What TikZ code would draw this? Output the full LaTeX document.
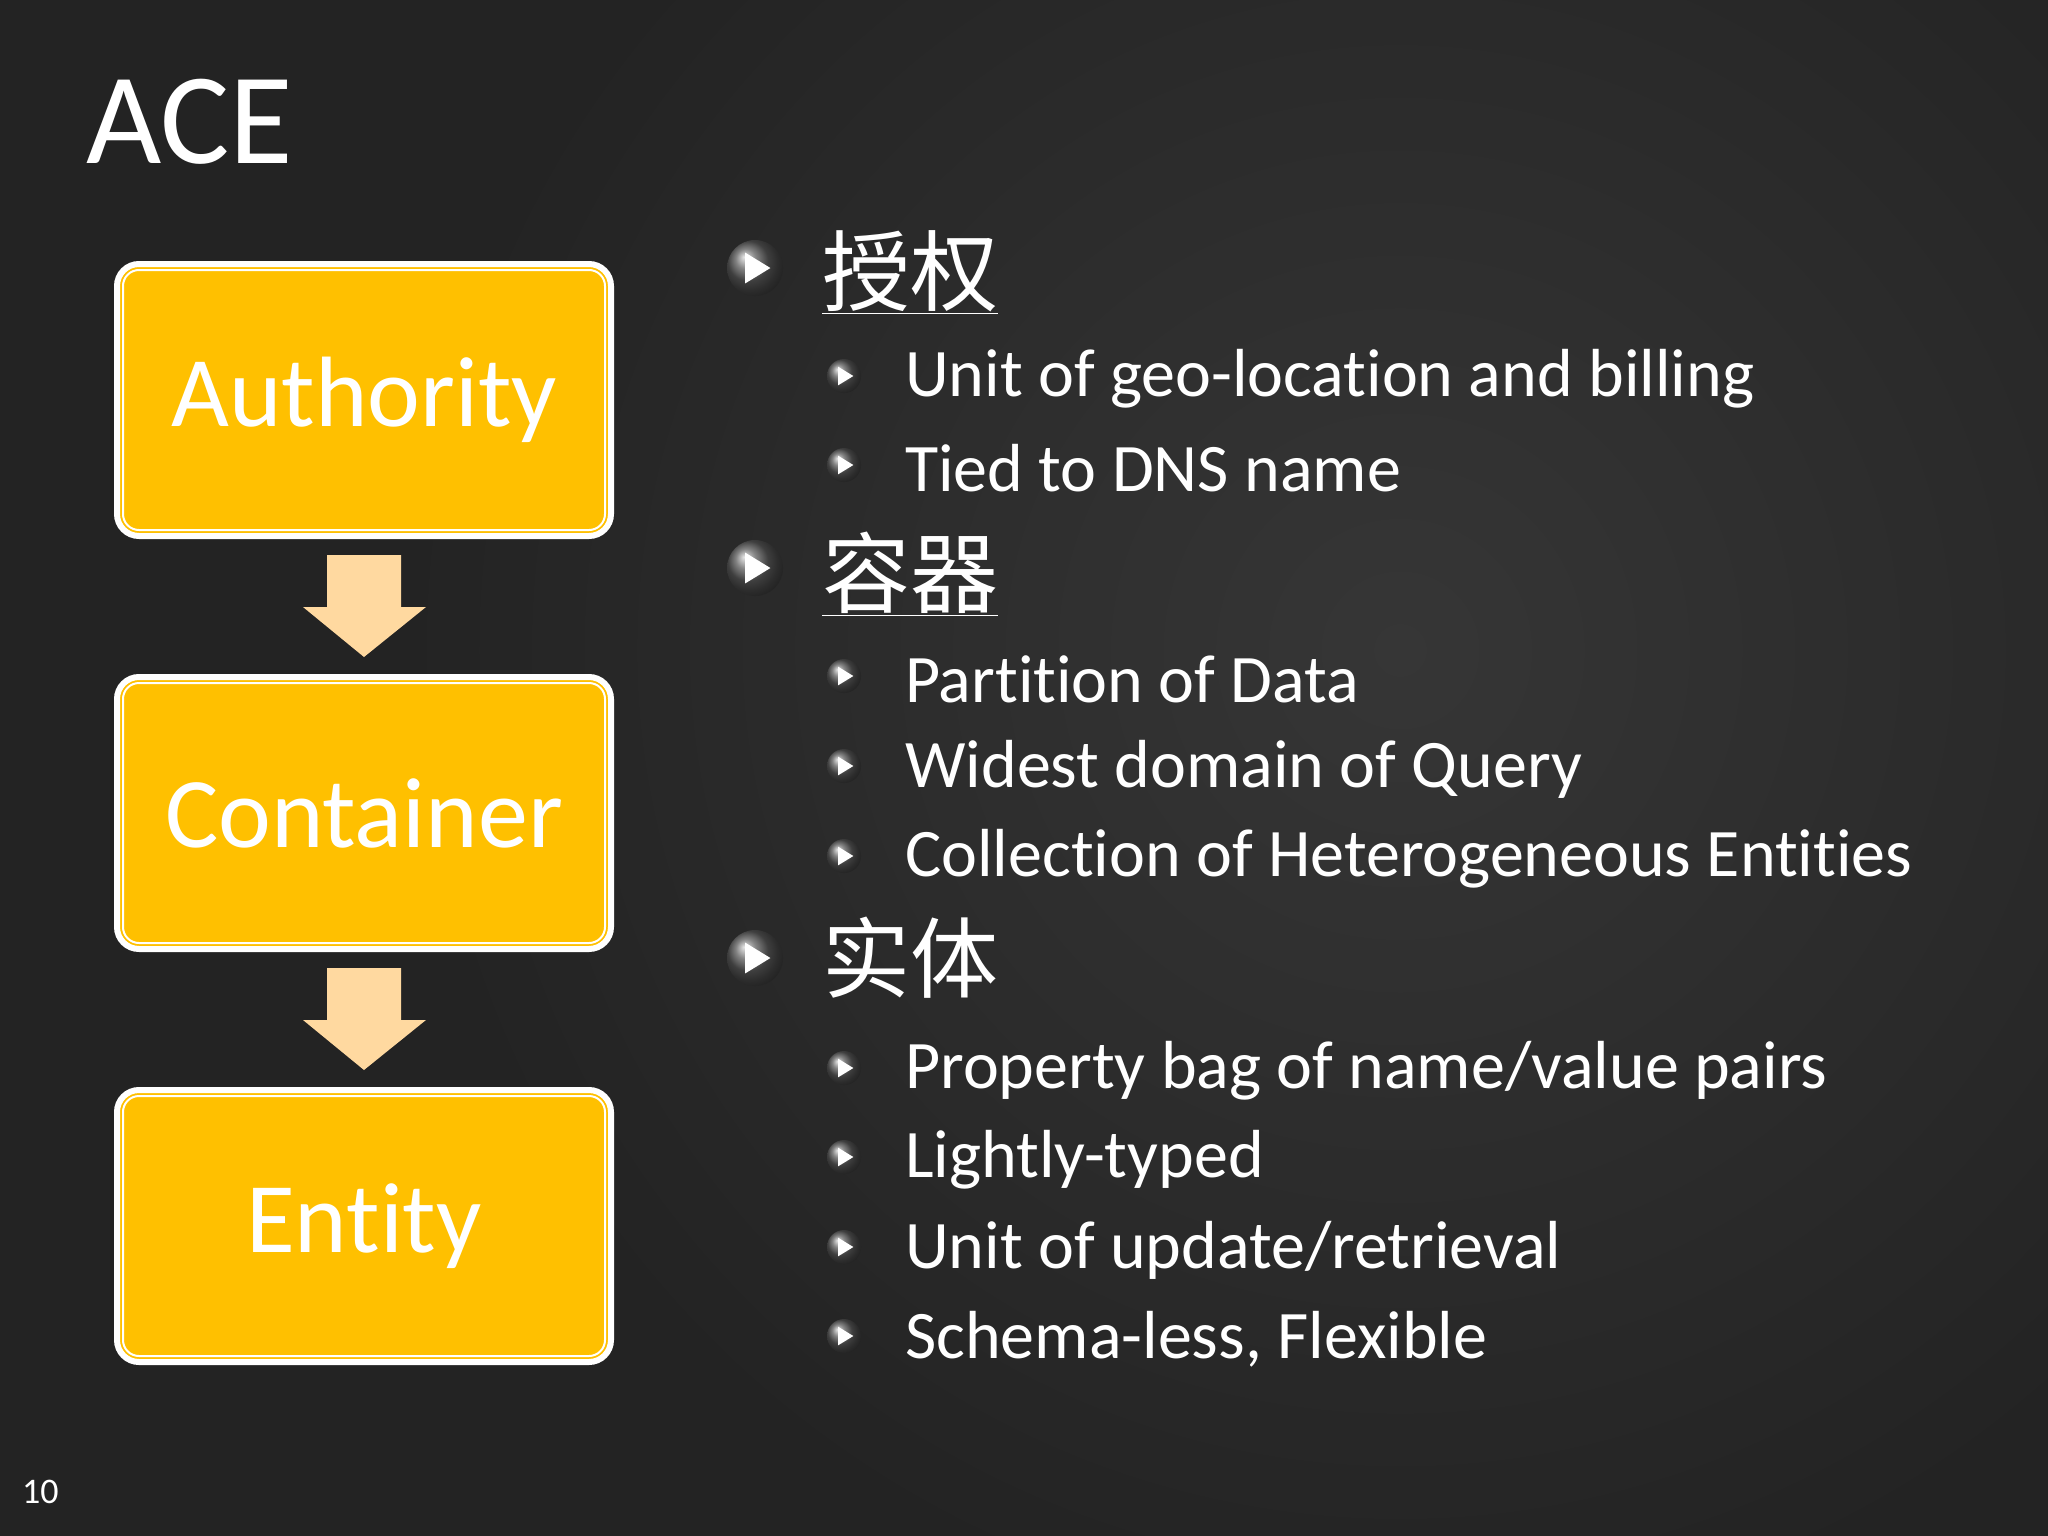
\documentclass[tikz,border=0pt]{standalone}
\usepackage{fontspec}
\setmainfont{Carlito}[Ligatures=NoCommon]
\newfontfamily\cjk{Noto Sans CJK SC}
\usetikzlibrary{shapes.geometric,calc}
\definecolor{boxy}{HTML}{FFC000}
\definecolor{arrowc}{HTML}{FFD9A0}
\definecolor{bgc}{HTML}{232323}
\definecolor{bgl}{HTML}{363636}
\tikzset{
  ybox/.style={draw=white,line width=6pt,rounded corners=22pt,fill=boxy,minimum width=494pt,minimum height=272pt,text=white,font=\fontsize{100}{110}\selectfont,inner sep=0pt},
  lone/.style={anchor=west,text=white,font=\cjk\fontsize{88}{96}\selectfont,inner sep=0pt},
  ltwo/.style={anchor=west,text=white,font=\fontsize{68}{80}\selectfont,inner sep=0pt},
  bigarrow/.style={fill=arrowc,draw=none}
}
\newcommand{\bulicon}[3]{%
  \shade[ball color=gray!70!black] (#1,#2) circle (#3);
  \fill[white] ($(#1,#2)+(-0.35*#3,-0.55*#3)$) -- ($(#1,#2)+(0.55*#3,0)$) -- ($(#1,#2)+(-0.35*#3,0.55*#3)$) -- cycle;}
\begin{document}
\begin{tikzpicture}[x=1pt,y=-1pt]
\useasboundingbox (0,0) rectangle (2048,1536);
\fill[bgc] (0,0) rectangle (2048,1536);
\shade[inner color=bgl,outer color=bgc] (1400,650) circle (1000);
\node[anchor=west,text=white,font=\fontsize{130}{140}\selectfont,inner sep=0pt] (title) at (86,122) {ACE};
\node[ybox] (a) at (364,400) {Authority};
\node[ybox] (c) at (364,813) {Container};
\node[ybox] (e) at (364,1226) {Entity};
\draw[white,line width=2pt,rounded corners=16pt] ($(a.south west)+(9,-9)$) rectangle ($(a.north east)+(-9,9)$);
\draw[white,line width=2pt,rounded corners=16pt] ($(c.south west)+(9,-9)$) rectangle ($(c.north east)+(-9,9)$);
\draw[white,line width=2pt,rounded corners=16pt] ($(e.south west)+(9,-9)$) rectangle ($(e.north east)+(-9,9)$);
\fill[bigarrow] (327,555) -- (401,555) -- (401,607) -- (426,607) -- (364,657) -- (303,607) -- (327,607) -- cycle;
\fill[bigarrow] (327,968) -- (401,968) -- (401,1020) -- (426,1020) -- (364,1070) -- (303,1020) -- (327,1020) -- cycle;
\bulicon{755}{268}{28}
\bulicon{755}{568}{28}
\bulicon{755}{958}{28}
\node[lone] (t1) at (822,272) {\underline{授权}};
\node[lone] (t2) at (822,574) {\underline{容器}};
\node[lone] (t3) at (822,958) {实体};
\foreach \yy in {376,465,676,766,856,1068,1157,1247,1336} {\bulicon{844}{\yy}{17}}
\node[ltwo] (s1) at (905,379) {Unit of geo-location and billing};
\node[ltwo] (s2) at (905,468) {Tied to DNS name};
\node[ltwo] (s3) at (905,679) {Partition of Data};
\node[ltwo] (s4) at (905,769) {Widest domain of Query};
\node[ltwo] (s5) at (905,859) {Collection of Heterogeneous Entities};
\node[ltwo] (s6) at (905,1071) {Property bag of name/value pairs};
\node[ltwo] (s7) at (905,1160) {Lightly-typed};
\node[ltwo] (s8) at (905,1250) {Unit of update/retrieval};
\node[ltwo] (s9) at (905,1339) {Schema-less, Flexible};
\node[anchor=west,text=white,font=\fontsize{36}{40}\selectfont,inner sep=0pt] (pg) at (22,1492) {10};
\end{tikzpicture}
\end{document}
